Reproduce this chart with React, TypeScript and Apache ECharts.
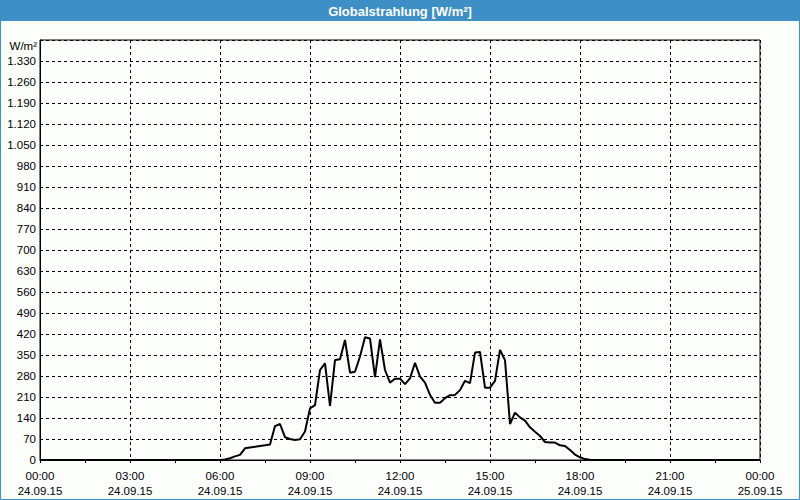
import React, { useEffect, useRef } from "react";
import * as echarts from "echarts";

const TITLE = "Globalstrahlung [W/m²]";
const UNIT = "W/m²";
const X_TICK_LABELS = ["00:00\n24.09.15", "03:00\n24.09.15", "06:00\n24.09.15", "09:00\n24.09.15", "12:00\n24.09.15", "15:00\n24.09.15", "18:00\n24.09.15", "21:00\n24.09.15", "00:00\n25.09.15"];

const TIMES = [
  "00:00", "06:00", "06:10", "06:20", "06:30", "06:40", "06:50",
  "07:00", "07:10", "07:20", "07:30", "07:40", "07:50",
  "08:00", "08:10", "08:20", "08:30", "08:40", "08:50",
  "09:00", "09:10", "09:20", "09:30", "09:40", "09:50",
  "10:00", "10:10", "10:20", "10:30", "10:40", "10:50",
  "11:00", "11:10", "11:20", "11:30", "11:40", "11:50",
  "12:00", "12:10", "12:20", "12:30", "12:40", "12:50",
  "13:00", "13:10", "13:20", "13:30", "13:40", "13:50",
  "14:00", "14:10", "14:20", "14:30", "14:40", "14:50",
  "15:00", "15:10", "15:20", "15:30", "15:40", "15:50",
  "16:00", "16:10", "16:20", "16:30", "16:40", "16:50",
  "17:00", "17:10", "17:20", "17:30", "17:40", "17:50",
  "18:00", "18:10", "18:20", "18:30", "24:00",
];

const VALUES = [
  0, 0, 2, 6, 12, 17, 39,
  42, 44, 47, 49, 52, 113,
  120, 76, 70, 67, 69, 95,
  172, 183, 300, 322, 180, 333,
  336, 400, 291, 294, 345, 409,
  405, 276, 402, 300, 258, 271,
  271, 253, 272, 324, 278, 258,
  217, 191, 191, 206, 216, 217,
  233, 264, 256, 358, 360, 241,
  241, 264, 367, 333, 120, 158,
  142, 131, 109, 94, 80, 60,
  58, 58, 49, 47, 33, 18,
  9, 3, 1, 0, 0,
];

const FONT = "Liberation Sans";

function toHours(t: string): number {
  const [h, m] = t.split(":").map(Number);
  return h + m / 60;
}

export default function App() {
  const ref = useRef<HTMLDivElement>(null);
  useEffect(() => {
    if (!ref.current) return;
    const chart = echarts.init(ref.current, undefined, { renderer: "svg" });
    const data = TIMES.map((t, i) => [toHours(t), VALUES[i]]);
    chart.setOption({
      animation: false,
      backgroundColor: "#fcfefc",
      grid: { left: 40, right: 40, top: 40, bottom: 40, show: true, borderColor: "#000", borderWidth: 1 },
      xAxis: {
        type: "value",
        min: 0,
        max: 24,
        interval: 3,
        axisLine: { show: true, lineStyle: { color: "#000", width: 1 } },
        axisTick: { show: true, length: 3, lineStyle: { color: "#000" } },
        minorTick: { show: true, splitNumber: 2, length: 3, lineStyle: { color: "#000" } },
        splitLine: { show: true, lineStyle: { color: "#000", type: [3, 3], width: 1 } },
        axisLabel: {
          color: "#000",
          fontFamily: FONT,
          fontSize: 11.5,
          lineHeight: 15,
          margin: 8,
          formatter: (v: number) => X_TICK_LABELS[Math.round(v / 3)] ?? "",
        },
      },
      yAxis: {
        type: "value",
        min: 0,
        max: 1400,
        interval: 70,
        axisLine: { show: true, lineStyle: { color: "#000", width: 1 } },
        axisTick: { show: false },
        splitLine: { show: true, lineStyle: { color: "#000", type: [3, 3], width: 1 } },
        axisLabel: {
          color: "#000",
          fontFamily: FONT,
          fontSize: 11.5,
          margin: 4,
          formatter: (v: number) => {
            if (v >= 1400) return "";
            if (v >= 1000) {
              const s = String(v);
              return s.slice(0, s.length - 3) + "." + s.slice(s.length - 3);
            }
            return String(v);
          },
        },
      },
      graphic: [
        { type: "rect", shape: { x: 0, y: 0, width: 800, height: 21 }, style: { fill: "#3d8fc6" }, z: 10 },
        { type: "rect", shape: { x: 0.5, y: 0.5, width: 799, height: 499 }, style: { fill: "none", stroke: "#3d8fc6", lineWidth: 1 }, z: 10 },
        {
          type: "text", x: 400, y: 11, z: 11,
          style: { text: TITLE, fill: "#fff", font: `bold 13px "${FONT}"`, textAlign: "center", textVerticalAlign: "middle" },
        },
        {
          type: "text", x: 37, y: 46, z: 11,
          style: { text: UNIT, fill: "#000", font: `11.5px "${FONT}"`, textAlign: "right", textVerticalAlign: "middle" },
        },
      ],
      series: [
        {
          type: "line",
          data,
          showSymbol: false,
          symbol: "none",
          lineStyle: { color: "#000", width: 2 },
          z: 5,
        },
      ],
    });
    return () => chart.dispose();
  }, []);
  return <div ref={ref} style={{ position: "absolute", left: 0, top: 0, width: 800, height: 500 }} />;
}
